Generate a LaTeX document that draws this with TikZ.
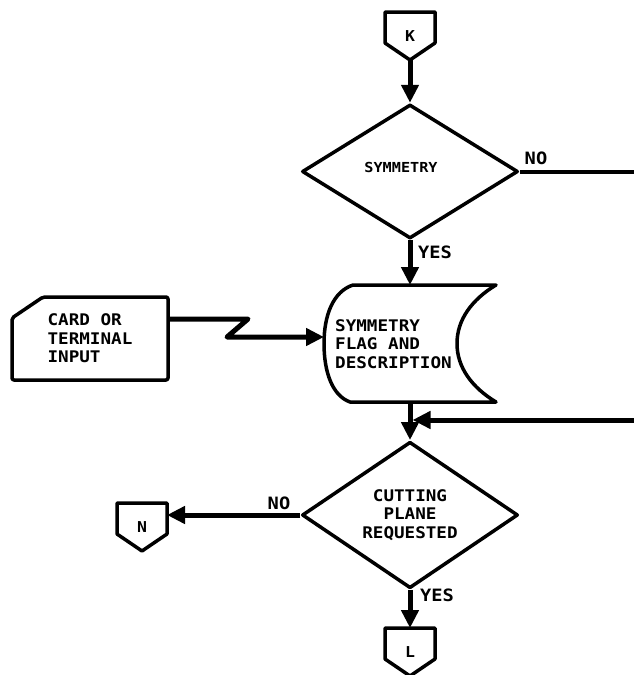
\documentclass[tikz,border=0pt]{standalone}
\usepackage{fontspec}
\newfontfamily\tw[FakeStretch=1.1]{DejaVu Sans Mono}
\usetikzlibrary{shapes.geometric,arrows.meta,calc}
\newcommand\offpg[1]{\draw[outl] (#1.north west) -- (#1.north east) -- ([yshift=17pt]#1.south east) -- (#1.south) -- ([yshift=17pt]#1.south west) -- cycle;}
\begin{document}
\begin{tikzpicture}[x=1pt,y=-1pt,
  outl/.style={line width=3.5pt, line join=round},
  flow/.style={line width=5pt, -{Triangle[length=18pt,width=17pt]}},
  plain/.style={line width=4pt},
  txt/.style={font=\tw\bfseries\fontsize{16pt}{18.5pt}\selectfont, align=left, inner sep=0},
  lbl/.style={font=\tw\bfseries\fontsize{17pt}{18pt}\selectfont, inner sep=0},
  decision/.style={diamond, draw, outl, minimum width=216pt, minimum height=134pt, inner sep=0, align=center},
  conn/.style={minimum width=50pt, minimum height=48pt, inner sep=0, outer sep=0, font=\tw\bfseries\fontsize{15pt}{16pt}\selectfont},
  box/.style={inner sep=0, outer sep=0}
]
\useasboundingbox (0,0) rectangle (634,675);

% nodes
\node[conn] (K) at (410,36) {K};
\offpg{K}
\node[decision, font=\tw\bfseries\fontsize{13.8pt}{16pt}\selectfont] (D1) at (410,171.5) {\raisebox{8pt}{SYMMETRY\kern18pt}};
\node[box, minimum width=172pt, minimum height=117pt] (S) at (410,343.5) {};
\draw[outl, shift={(S.center)}] (-57,-58.5) -- (86,-58.5)
   .. controls (62,-44) and (47,-24) .. (47,0)
   .. controls (47,24) and (62,44) .. (86,58.5)
   -- (-60,58.5)
   .. controls (-78,52) and (-86,28) .. (-86,0)
   .. controls (-86,-28) and (-77,-52) .. (-57,-58.5) -- cycle;
\node[txt, anchor=west] (St) at (335,344) {SYMMETRY\\FLAG AND\\DESCRIPTION};
\node[box, txt, minimum width=156pt, minimum height=83pt] (C) at (90,338.5) {CARD OR\\TERMINAL\\INPUT};
\draw[outl, rounded corners=2pt] (C.south west) -- ([yshift=-21pt]C.north west) -- ([xshift=31pt]C.north west) -- (C.north east) -- (C.south east) -- cycle;
\node[decision, txt, align=center] (D2) at (410,515) {CUTTING\\PLANE\\REQUESTED};
\node[conn] (N) at (142,527) {N};
\offpg{N}
\node[conn] (L) at (410,652) {L};
\offpg{L}

% free ends
\coordinate (E1) at (634,0);
\coordinate (R) at (634,420);

% connectors
\draw[flow] (K.south) -- (D1.north);
\draw[plain] (D1.east) -- (D1.east -| E1);
\draw[flow] (D1.south) -- (S.north);
\draw[flow, line join=round] ([yshift=19.5pt]C.east) -- (248,319) -- (227,337) -- (S.west |- 0,337);
\draw[line width=5pt] (S.south) -- (S.south |- R);
\draw[flow] (S.south) -- (D2.north);
\draw[flow] (R) -- ([xshift=2.5pt]S.south |- R);
\draw[flow] (D2.west) -- (N.east |- D2.west);
\draw[flow] (D2.south) -- (L.north);

% labels
\node[lbl] (no1) at (536,158) {NO};
\node[lbl] (yes1) at (435,252) {YES};
\node[lbl] (no2) at (279,503) {NO};
\node[lbl] (yes2) at (437,595) {YES};
\end{tikzpicture}
\end{document}
